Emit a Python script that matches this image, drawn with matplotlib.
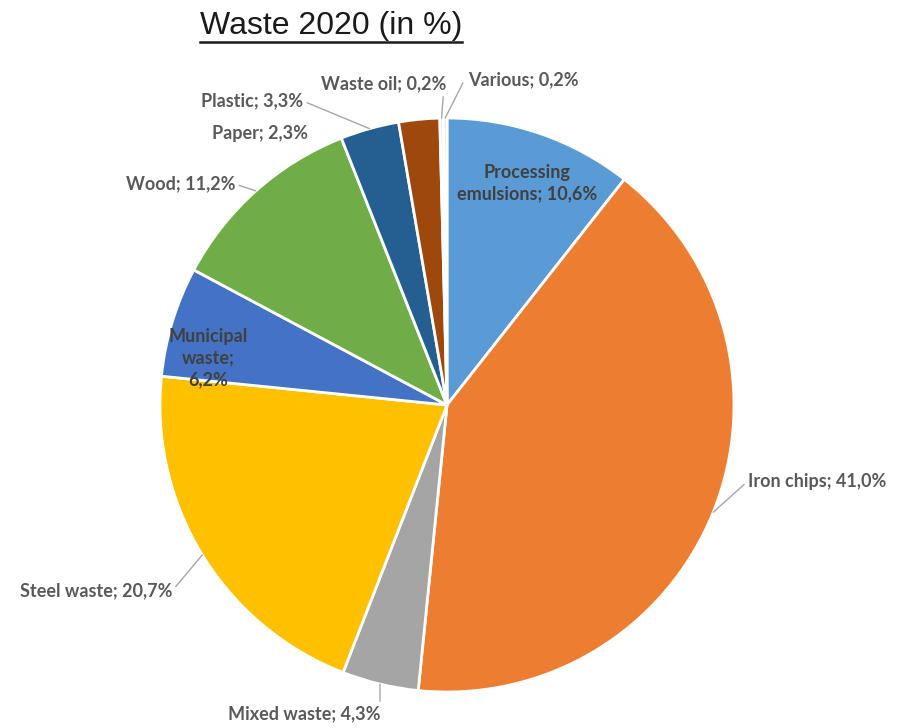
import matplotlib
matplotlib.use("Agg")
import matplotlib.pyplot as plt
from matplotlib.lines import Line2D
import numpy as np

# data
categories = ["Processing emulsions", "Iron chips", "Mixed waste", "Steel waste",
              "Municipal waste", "Wood", "Plastic", "Paper", "Waste oil", "Various"]
values = [10.6, 41.0, 4.3, 20.7, 6.2, 11.2, 3.3, 2.3, 0.2, 0.2]
colors = ["#5b9bd5", "#ed7d31", "#a5a5a5", "#ffc000", "#4472c4",
          "#70ad47", "#255e91", "#9e480e", "#e3e3e3", "#f2dcc8"]

W, H = 898, 728
fig = plt.figure(figsize=(W / 100, H / 100), dpi=100)

cx, cy, r = 447, 405, 287
ax = fig.add_axes([(cx - r) / W, (H - cy - r) / H, 2 * r / W, 2 * r / H])
wedges, _ = ax.pie(values, colors=colors, startangle=90, counterclock=False,
                   radius=1, wedgeprops=dict(edgecolor="white", linewidth=2))
ax.set_xlim(-1, 1)
ax.set_ylim(-1, 1)
ax.set_aspect("equal")
ax.axis("off")


def pct(v):
    return ("%.1f" % v).replace(".", ",") + "%"


def fpx(x, y):
    return (x / W, 1 - y / H)


txt_color = "#595959"
font = dict(family="Lato", weight="bold", fontsize=13)

# label placement in pixels: x, y, ha, leader anchor on the text box
layout = {
    "Iron chips": (748, 481, "left", (0.0, 0.5)),
    "Mixed waste": (380, 714, "right", (1.0, 0.5)),
    "Steel waste": (172, 591, "right", (1.0, 0.5)),
    "Wood": (235, 184, "right", (1.0, 0.5)),
    "Plastic": (303, 101, "right", (1.0, 0.5)),
    "Paper": (308, 133, "right", None),
    "Waste oil": (446, 84, "right", (0.98, 0.0)),
    "Various": (468, 80, "left", (-0.04, 0.4)),
}

for w, name, v in zip(wedges, categories, values):
    mid = np.deg2rad((w.theta1 + w.theta2) / 2)
    px, py = np.cos(mid), np.sin(mid)
    if name == "Processing emulsions":
        ax.text(*fpx(527, 183), "Processing\nemulsions; " + pct(v), transform=fig.transFigure,
                ha="center", va="center", color="#404040", linespacing=1.35, **font)
        continue
    if name == "Municipal waste":
        ax.text(*fpx(208, 358), "Municipal\nwaste;\n" + pct(v), transform=fig.transFigure,
                ha="center", va="center", color="#404040", linespacing=1.35, **font)
        continue
    tx, ty, ha, rel = layout[name]
    label = name + "; " + pct(v)
    if rel is None:
        ax.text(*fpx(tx, ty), label, transform=fig.transFigure, ha=ha, va="center",
                color=txt_color, **font)
    else:
        ax.annotate(label, xy=(px, py), xycoords="data",
                    xytext=fpx(tx, ty), textcoords="figure fraction",
                    ha=ha, va="center", color=txt_color, **font,
                    arrowprops=dict(arrowstyle="-", color="#a6a6a6", lw=1,
                                    relpos=rel, shrinkA=1, shrinkB=0))

# underlined title
title = fig.text(*fpx(200, 26), "Waste 2020 (in %)", ha="left", va="center",
                 family="Liberation Sans", fontsize=23, color="#1a1a1a")
fig.canvas.draw()
bb = title.get_window_extent()
fig.add_artist(Line2D([bb.x0 / W, bb.x1 / W], [(bb.y0 - 1) / H, (bb.y0 - 1) / H],
                      transform=fig.transFigure, color="#1a1a1a", lw=1.8))

fig.savefig("out.png", dpi=100, facecolor="white")
